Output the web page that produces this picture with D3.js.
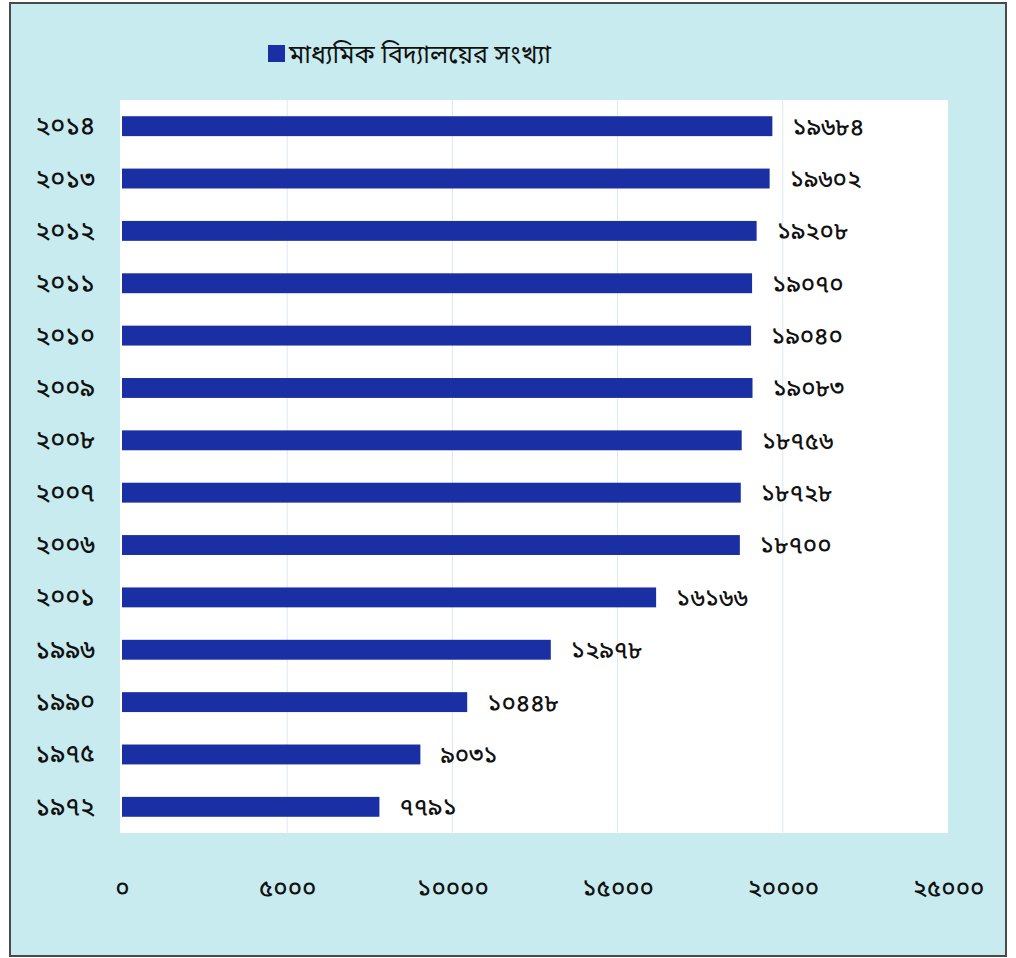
<!DOCTYPE html>
<html>
<head>
<meta charset="utf-8">
<script src="https://cdn.jsdelivr.net/npm/d3@7"></script>
<style>
  html, body { margin: 0; padding: 0; background: #ffffff; }
  svg { display: block; }
  text { font-family: "Noto Sans Bengali", "Lohit Bengali", "FreeSans", "Noto Sans", sans-serif; fill: #111; font-weight: 500; }
  .legend-label { font-weight: 400; }
</style>
</head>
<body>
<script>
// Number of secondary schools by year
const years = ["২০১৪", "২০১৩", "২০১২", "২০১১", "২০১০", "২০০৯", "২০০৮", "২০০৭", "২০০৬", "২০০১", "১৯৯৬", "১৯৯০", "১৯৭৫", "১৯৭২"];
const schools = [19684, 19602, 19208, 19070, 19040, 19083, 18756, 18728, 18700, 16166, 12978, 10448, 9031, 7791];
const xTicks = [0, 5000, 10000, 15000, 20000, 25000];
const legendLabel = "মাধ্যমিক বিদ্যালয়ের সংখ্যা";

const bnDigits = "০১২৩৪৫৬৭৮৯";
const toBn = n => String(n).replace(/[0-9]/g, d => bnDigits[+d]);

const W = 1016, H = 958;
const plot = { left: 122, right: 948, top: 100, bottom: 833 };

const svg = d3.select("body").append("svg").attr("width", W).attr("height", H);

// page background and frame
svg.append("rect").attr("x", 0).attr("y", 0).attr("width", W).attr("height", H).attr("fill", "#ffffff");
svg.append("rect").attr("x", 10).attr("y", 3).attr("width", 996).attr("height", 953)
  .attr("fill", "#c8ebef").attr("stroke", "#4a4a4a").attr("stroke-width", 2);

// white plotting area
svg.append("rect")
  .attr("x", plot.left - 2).attr("y", plot.top)
  .attr("width", plot.right - plot.left + 2).attr("height", plot.bottom - plot.top)
  .attr("fill", "#ffffff");

const x = d3.scaleLinear().domain([0, 25000]).range([plot.left, plot.right]);
const y = d3.scaleBand().domain(years).range([plot.top, plot.bottom]).paddingInner(0.62).paddingOuter(0.31);

// vertical gridlines
svg.append("g").selectAll("line")
  .data(xTicks.filter(t => t > 0 && t < 25000))
  .join("line")
  .attr("x1", d => x(d)).attr("x2", d => x(d))
  .attr("y1", plot.top).attr("y2", plot.bottom)
  .attr("stroke", "#dde9ee").attr("stroke-width", 1);

const rows = years.map((yr, i) => ({ yr, v: schools[i] }));

// bars
svg.append("g").selectAll("rect")
  .data(rows)
  .join("rect")
  .attr("x", x(0))
  .attr("y", d => y(d.yr))
  .attr("width", d => x(d.v) - x(0))
  .attr("height", y.bandwidth())
  .attr("fill", "#1a2fa3");

// value labels
svg.append("g").selectAll("text")
  .data(rows)
  .join("text")
  .attr("x", d => x(d.v) + 20)
  .attr("y", d => y(d.yr) + y.bandwidth() / 2)
  .attr("dy", "0.35em")
  .attr("font-size", 24)
  .text(d => toBn(d.v));

// category axis (years)
const yAxis = svg.append("g")
  .attr("transform", `translate(${plot.left - 27},0)`)
  .call(d3.axisLeft(y).tickSize(0).tickPadding(0));
yAxis.select(".domain").remove();
yAxis.selectAll("text").attr("font-size", 25).attr("fill", "#111").attr("font-family", null);

// value axis
const xAxis = svg.append("g")
  .attr("transform", "translate(0,896)")
  .call(d3.axisBottom(x).tickValues(xTicks).tickSize(0).tickPadding(0).tickFormat(toBn));
xAxis.select(".domain").remove();
xAxis.selectAll("text").attr("font-size", 24).attr("fill", "#111").attr("dy", "0").attr("font-family", null);

// legend
const legend = svg.append("g").attr("transform", "translate(268,45)");
legend.append("rect").attr("width", 17).attr("height", 17).attr("fill", "#1a2fa3");
legend.append("text").attr("class", "legend-label")
  .attr("x", 21).attr("y", 9).attr("dy", "0.35em").attr("font-size", 25).text(legendLabel);
</script>
</body>
</html>
